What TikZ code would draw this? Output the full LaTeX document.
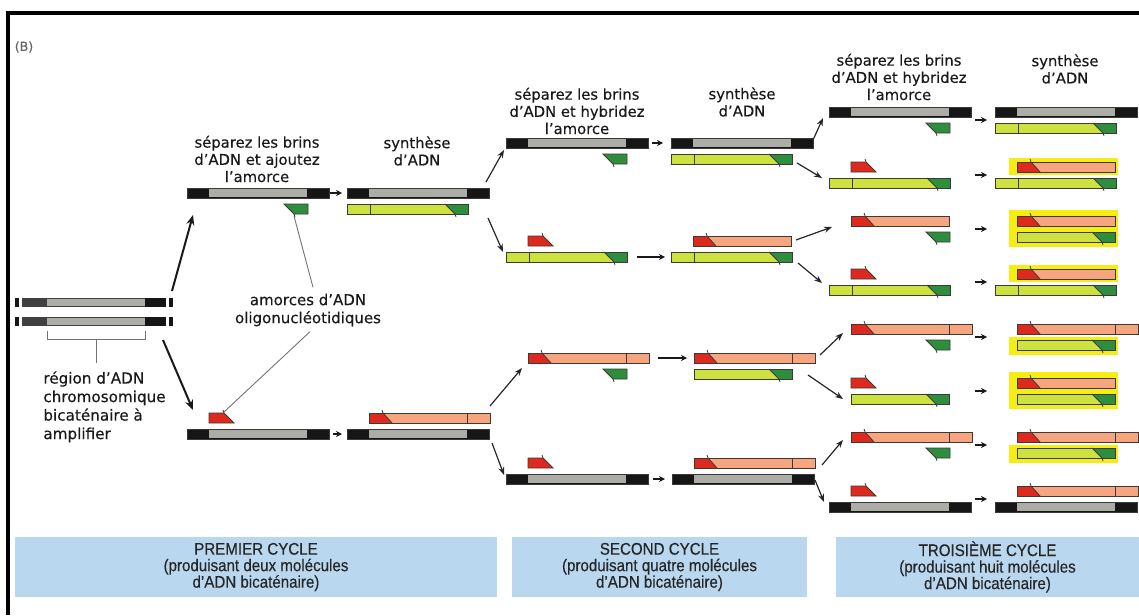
\documentclass[tikz,border=0pt]{standalone}
\usepackage{fontspec}
\setmainfont{DejaVu Sans}[FakeBold=0.35]
\newfontfamily\boxfont[FakeStretch=0.9,FakeBold=0.35]{Liberation Sans}
\usetikzlibrary{arrows.meta}

\definecolor{dnablack}{HTML}{161616}
\definecolor{dnagrey}{HTML}{ADADA8}
\definecolor{lime}{HTML}{CDE23E}
\definecolor{primgreen}{HTML}{2F8E3E}
\definecolor{primred}{HTML}{DE2A1E}
\definecolor{salmon}{HTML}{F6A57E}
\definecolor{hiyellow}{HTML}{F6EE12}
\definecolor{cycleblue}{HTML}{B9D7EE}
\definecolor{edge}{HTML}{3C3A36}

\tikzset{
  strandline/.style={draw=edge, line width=0.4pt},
  hdr/.style={align=center, inner sep=0pt, text=black!90,
    font=\fontsize{7.4}{8.6}\selectfont},
  lbl/.style={align=center, inner sep=0pt, text=black!90,
    font=\fontsize{7.5}{9}\selectfont},
  cyclebox/.style={fill=cycleblue, minimum height=30pt, inner sep=0pt,
    align=center, text=black!85, font=\boxfont\fontsize{8.4}{8.25}\selectfont},
  arr/.style={line width=0.6pt, draw=black!85, -{Stealth[length=4pt,width=3pt]}},
  bigarr/.style={line width=1pt, draw=black!90, -{Stealth[length=5pt,width=4pt]}},
  sarr/.style={line width=0.9pt, draw=black!90, -{Stealth[length=3pt,width=3pt]}},
  ptr/.style={line width=0.45pt, draw=black!55},
  % template strand (black ends, grey target region)
  tmpl/.pic={
    \fill[dnablack] (0,-5) rectangle (142,5);
    \fill[dnagrey] (22,-4) rectangle (120,4);
    \draw[strandline] (0,-5) rectangle (142,5);
  },
  % chromosomic DNA strand, cut at both sides
  chrom/.pic={
    \fill[dnablack] (-7,-4.5) rectangle (-3,4.5);
    \fill[black!75] (0,-4.5) rectangle (144,4.5);
    \fill[dnagrey] (25,-3.5) rectangle (123,3.5);
    \fill[dnablack] (123,-4.5) rectangle (144,4.5);
    \fill[dnablack] (147,-4.5) rectangle (151,4.5);
  },
  % new strand from the green primer (origin = left end)
  gstr/.pic={
    \fill[lime] (0,-5) rectangle (#1,5);
    \fill[primgreen] (#1-23,-5) -- (#1,-5) -- (#1,5) -- (#1-13,5) -- cycle;
    \draw[strandline] (#1-23,-5) -- (#1-13,5) -- (#1-12,8);
    \draw[strandline] (#1-98,-5) -- (#1-98,5);
    \draw[strandline] (0,-5) rectangle (#1,5);
  },
  % new strand from the red primer (origin = left end)
  ostr/.pic={
    \fill[salmon] (0,-5) rectangle (#1,5);
    \fill[primred] (0,-5) -- (14,-5) -- (23,5) -- (0,5) -- cycle;
    \draw[strandline] (13,-8) -- (14,-5) -- (23,5);
    \draw[strandline] (98,-5) -- (98,5);
    \draw[strandline] (0,-5) rectangle (#1,5);
  },
  % free primers
  gprim/.pic={
    \fill[primgreen] (-24,-5) -- (0,-5) -- (0,5) -- (-14,5) -- cycle;
    \draw[strandline] (-24,-5) -- (0,-5) -- (0,5) -- (-14,5) -- cycle;
    \draw[strandline] (-14,5) -- (-13,8);
    \coordinate (-tk) at (-14,7);
  },
  rprim/.pic={
    \fill[primred] (0,-5) -- (15,-5) -- (25,5) -- (0,5) -- cycle;
    \draw[strandline] (0,-5) -- (15,-5) -- (25,5) -- (0,5) -- cycle;
    \draw[strandline] (15,-5) -- (14,-8);
    \coordinate (-tk) at (15,-6);
  },
  % yellow marks on the wanted short molecules
  hitop/.pic={\fill[hiyellow] (14,-17) rectangle (123,0);},
  hibot/.pic={\fill[hiyellow] (14,0) rectangle (123,18);},
  hiboth/.pic={\fill[hiyellow] (14,-19) rectangle (123,18);},
}

\begin{document}
\begin{tikzpicture}[x=0.5pt,y=-0.5pt]
  \useasboundingbox (0,0) rectangle (1139,615);
  \draw[line width=2pt] (8,615) -- (8,13) -- (1139,13);
  \node[inner sep=0pt, text=black!60, font=\fontsize{6.3}{7}\selectfont] (tag) at (24,47) {(B)};

  % molecules: left end, middle between the two strands
  \coordinate (c0) at (22,312);
  \coordinate (c1a) at (187,201);
  \coordinate (c1as) at (347,201);
  \coordinate (c1b) at (187,426);
  \coordinate (c1bs) at (347,426);
  \coordinate (c2a) at (506,151);
  \coordinate (c2as) at (671,151);
  \coordinate (c2b) at (506,249);
  \coordinate (c2bs) at (671,249);
  \coordinate (c2c) at (506,366);
  \coordinate (c2cs) at (672,366);
  \coordinate (c2d) at (506,471);
  \coordinate (c2ds) at (672,471);
  \coordinate (c3a) at (829,120);
  \coordinate (c3as) at (995,120);
  \coordinate (c3b) at (829,175);
  \coordinate (c3bs) at (995,175);
  \coordinate (c3c) at (829,229);
  \coordinate (c3cs) at (995,229);
  \coordinate (c3d) at (829,282);
  \coordinate (c3ds) at (995,282);
  \coordinate (c3e) at (829,337);
  \coordinate (c3es) at (995,337);
  \coordinate (c3f) at (829,391);
  \coordinate (c3fs) at (995,391);
  \coordinate (c3g) at (829,445);
  \coordinate (c3gs) at (995,445);
  \coordinate (c3h) at (829,499);
  \coordinate (c3hs) at (995,499);

  % headings
  \node[hdr] (h1a) at (257,159) {séparez les brins\\d’ADN et ajoutez\\l’amorce};
  \node[hdr] (h1s) at (417,151) {synthèse\\d’ADN};
  \node[hdr] (h2a) at (577,111) {séparez les brins\\d’ADN et hybridez\\l’amorce};
  \node[hdr] (h2s) at (742,102) {synthèse\\d’ADN};
  \node[hdr] (h3a) at (899,77) {séparez les brins\\d’ADN et hybridez\\l’amorce};
  \node[hdr] (h3s) at (1065,69) {synthèse\\d’ADN};

  % start
  \pic (c0-t) at ([shift={(0,-10)}]c0) {chrom};
  \pic (c0-b) at ([shift={(0,9)}]c0) {chrom};
  \draw[ptr] ([shift={(25,19)}]c0) |- ([shift={(123,27)}]c0) -- ([shift={(123,19)}]c0);
  \draw[ptr] ([shift={(74,27)}]c0) -- ([shift={(74,51)}]c0);
  \node[lbl, align=left, anchor=north west, font=\fontsize{7.6}{9.25}\selectfont] (region) at (43,371)
    {région d’ADN\\chromosomique\\bicaténaire à\\amplifier};

  % first cycle
  \pic (c1a-t) at ([shift={(0,-8)}]c1a) {tmpl};
  \pic (c1a-b) at ([shift={(121,8)}]c1a) {gprim};
  \pic (c1as-t) at ([shift={(0,-8)}]c1as) {tmpl};
  \pic (c1as-b) at ([shift={(0,8)}]c1as) {gstr=121};
  \pic (c1b-t) at ([shift={(22,-8)}]c1b) {rprim};
  \pic (c1b-b) at ([shift={(0,8)}]c1b) {tmpl};
  \pic (c1bs-t) at ([shift={(22,-8)}]c1bs) {ostr=121};
  \pic (c1bs-b) at ([shift={(0,8)}]c1bs) {tmpl};

  \node[lbl] (amorces) at (308,310) {amorces d’ADN\\oligonucléotidiques};
  \draw[ptr] ([shift={(5,-6)}]amorces.north) -- (c1a-b-tk);
  \draw[ptr] ([shift={(2,5)}]amorces.south) -- (c1b-t-tk);

  % second cycle
  \pic (c2a-t) at ([shift={(0,-8)}]c2a) {tmpl};
  \pic (c2a-b) at ([shift={(121,8)}]c2a) {gprim};
  \pic (c2as-t) at ([shift={(0,-8)}]c2as) {tmpl};
  \pic (c2as-b) at ([shift={(0,8)}]c2as) {gstr=121};
  \pic (c2b-t) at ([shift={(22,-8)}]c2b) {rprim};
  \pic (c2b-b) at ([shift={(0,8)}]c2b) {gstr=121};
  \pic (c2bs-t) at ([shift={(22,-8)}]c2bs) {ostr=98};
  \pic (c2bs-b) at ([shift={(0,8)}]c2bs) {gstr=121};
  \pic (c2c-t) at ([shift={(22,-8)}]c2c) {ostr=121};
  \pic (c2c-b) at ([shift={(121,8)}]c2c) {gprim};
  \pic (c2cs-t) at ([shift={(22,-8)}]c2cs) {ostr=121};
  \pic (c2cs-b) at ([shift={(22,8)}]c2cs) {gstr=98};
  \pic (c2d-t) at ([shift={(22,-8)}]c2d) {rprim};
  \pic (c2d-b) at ([shift={(0,8)}]c2d) {tmpl};
  \pic (c2ds-t) at ([shift={(22,-8)}]c2ds) {ostr=121};
  \pic (c2ds-b) at ([shift={(0,8)}]c2ds) {tmpl};

  % third cycle
  \pic at (c3bs) {hitop};
  \pic at (c3cs) {hiboth};
  \pic at (c3ds) {hitop};
  \pic at (c3es) {hibot};
  \pic at (c3fs) {hiboth};
  \pic at (c3gs) {hibot};
  \pic (c3a-t) at ([shift={(0,-8)}]c3a) {tmpl};
  \pic (c3a-b) at ([shift={(121,8)}]c3a) {gprim};
  \pic (c3as-t) at ([shift={(0,-8)}]c3as) {tmpl};
  \pic (c3as-b) at ([shift={(0,8)}]c3as) {gstr=121};
  \pic (c3b-t) at ([shift={(22,-8)}]c3b) {rprim};
  \pic (c3b-b) at ([shift={(0,8)}]c3b) {gstr=121};
  \pic (c3bs-t) at ([shift={(22,-8)}]c3bs) {ostr=98};
  \pic (c3bs-b) at ([shift={(0,8)}]c3bs) {gstr=121};
  \pic (c3c-t) at ([shift={(22,-8)}]c3c) {ostr=98};
  \pic (c3c-b) at ([shift={(121,8)}]c3c) {gprim};
  \pic (c3cs-t) at ([shift={(22,-8)}]c3cs) {ostr=98};
  \pic (c3cs-b) at ([shift={(22,8)}]c3cs) {gstr=98};
  \pic (c3d-t) at ([shift={(22,-8)}]c3d) {rprim};
  \pic (c3d-b) at ([shift={(0,8)}]c3d) {gstr=121};
  \pic (c3ds-t) at ([shift={(22,-8)}]c3ds) {ostr=98};
  \pic (c3ds-b) at ([shift={(0,8)}]c3ds) {gstr=121};
  \pic (c3e-t) at ([shift={(22,-8)}]c3e) {ostr=121};
  \pic (c3e-b) at ([shift={(121,8)}]c3e) {gprim};
  \pic (c3es-t) at ([shift={(22,-8)}]c3es) {ostr=121};
  \pic (c3es-b) at ([shift={(22,8)}]c3es) {gstr=98};
  \pic (c3f-t) at ([shift={(22,-8)}]c3f) {rprim};
  \pic (c3f-b) at ([shift={(22,8)}]c3f) {gstr=98};
  \pic (c3fs-t) at ([shift={(22,-8)}]c3fs) {ostr=98};
  \pic (c3fs-b) at ([shift={(22,8)}]c3fs) {gstr=98};
  \pic (c3g-t) at ([shift={(22,-8)}]c3g) {ostr=121};
  \pic (c3g-b) at ([shift={(121,8)}]c3g) {gprim};
  \pic (c3gs-t) at ([shift={(22,-8)}]c3gs) {ostr=121};
  \pic (c3gs-b) at ([shift={(22,8)}]c3gs) {gstr=98};
  \pic (c3h-t) at ([shift={(22,-8)}]c3h) {rprim};
  \pic (c3h-b) at ([shift={(0,8)}]c3h) {tmpl};
  \pic (c3hs-t) at ([shift={(22,-8)}]c3hs) {ostr=121};
  \pic (c3hs-b) at ([shift={(0,8)}]c3hs) {tmpl};

  % arrows
  \draw[bigarr] ([shift={(150,-21)}]c0) -- ([shift={(6,14)}]c1a);
  \draw[bigarr] ([shift={(141,28)}]c0) -- ([shift={(6,-16)}]c1b);
  \draw[sarr] ([shift={(143,-8)}]c1a) -- ([shift={(-5,-8)}]c1as);
  \draw[sarr] ([shift={(146,8)}]c1b) -- ([shift={(-5,8)}]c1bs);

  \draw[arr] ([shift={(139,-19)}]c1as) -- ([shift={(-2,-1)}]c2a);
  \draw[arr] ([shift={(141,17)}]c1as) -- ([shift={(-3,3)}]c2b);
  \draw[arr] ([shift={(143,-20)}]c1bs) -- ([shift={(16,2)}]c2c);
  \draw[arr] ([shift={(145,17)}]c1bs) -- ([shift={(-2,4)}]c2d);
  \draw[sarr] ([shift={(146,-8)}]c2a) -- ([shift={(-8,-8)}]c2as);
  \draw[sarr] ([shift={(131,8)}]c2b) -- ([shift={(-6,8)}]c2bs);
  \draw[sarr] ([shift={(152,-8)}]c2c) -- ([shift={(15,-8)}]c2cs);
  \draw[sarr] ([shift={(147,8)}]c2d) -- ([shift={(-7,8)}]c2ds);

  \draw[arr] ([shift={(142,-11)}]c2as) -- ([shift={(-6,-2)}]c3a);
  \draw[arr] ([shift={(126,12)}]c2as) -- ([shift={(-7,3)}]c3b);
  \draw[arr] ([shift={(125,-9)}]c2bs) -- ([shift={(3,-2)}]c3c);
  \draw[arr] ([shift={(127,14)}]c2bs) -- ([shift={(-7,1)}]c3d);
  \draw[arr] ([shift={(148,-11)}]c2cs) -- ([shift={(14,-4)}]c3e);
  \draw[arr] ([shift={(136,9)}]c2cs) -- ([shift={(14,8)}]c3f);
  \draw[arr] ([shift={(150,-6)}]c2ds) -- ([shift={(14,-5)}]c3g);
  \draw[arr] ([shift={(143,9)}]c2ds) -- ([shift={(-5,3)}]c3h);
  \foreach \row in {a,...,h}
    \draw[sarr] ([shift={(146,0)}]c3\row) -- ([shift={(-8,0)}]c3\row s);

  % cycle boxes
  \node[cyclebox, minimum width=241pt] (cyc1) at (256,567)
    {PREMIER CYCLE\\(produisant deux molécules\\d’ADN bicaténaire)};
  \node[cyclebox, minimum width=147.5pt] (cyc2) at (659.5,567)
    {SECOND CYCLE\\(produisant quatre molécules\\d’ADN bicaténaire)};
  \node[cyclebox, minimum width=151.5pt] (cyc3) at (987.5,567)
    {TROISIÈME CYCLE\\(produisant huit molécules\\d’ADN bicaténaire)};
\end{tikzpicture}
\end{document}
